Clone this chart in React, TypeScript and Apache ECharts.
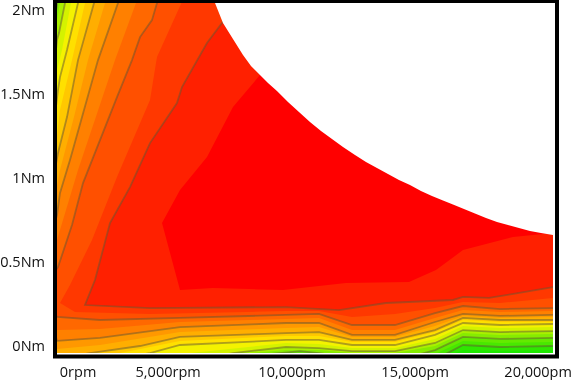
import React, { useEffect, useRef } from "react";
import * as echarts from "echarts";

type Pt = [number, number];

const yTickValues = [0, 0.5, 1, 1.5, 2];
const yTickLabels = ["0Nm", "0.5Nm", "1Nm", "1.5Nm", "2Nm"];
const xTickValues = [850, 4480, 9480, 14440, 19400];
const xTickLabels = ["0rpm", "5,000rpm", "10,000pm", "15,000pm", "20,000pm"];

const bandColors = ["#2ee800", "#48e800", "#64ea00", "#86ec00", "#aaf000", "#d4f200", "#f4f200", "#ffe000", "#ffc800", "#ffae00", "#ff9800", "#ff8000", "#ff6800", "#ff5000", "#ff3800", "#ff2000", "#ff0000"];
const bandHasLine = [false, true, false, true, false, true, false, true, false, true, false, true, false, true, false, true, false];

const c00: Pt[] = [[-700, 2.083], [-700, -0.071], [15645, -0.071], [16371, -0.03], [17863, -0.036], [20000, -0.03]];
const c01: Pt[] = [[-700, 2.083], [-700, -0.071], [15444, -0.071], [16371, 0], [17863, -0.012], [20000, -0.006]];
const c02: Pt[] = [[-700, 2.083], [-700, -0.071], [13226, -0.071], [15242, -0.054], [16371, 0.024], [17863, 0.012], [20000, 0.018]];
const c03: Pt[] = [[40, 2.083], [0, 2.024], [-685, 1.458], [-700, -0.071], [7984, -0.071], [8588, -0.054], [9798, -0.036], [10564, -0.048], [11613, -0.071], [14233, -0.071], [15242, -0.03], [16371, 0.048], [17863, 0.036], [20000, 0.042]];
const c04: Pt[] = [[121, 2.083], [121, 2.036], [0, 1.934], [-685, 1.161], [-700, -0.071], [7177, -0.071], [7782, -0.048], [9233, -0.03], [10564, -0.03], [11895, -0.048], [13629, -0.048], [15242, -0.006], [16371, 0.071], [17863, 0.06], [20000, 0.065]];
const c05: Pt[] = [[363, 2.083], [323, 2.036], [81, 1.857], [0, 1.815], [-685, 0.863], [-700, -0.071], [6371, -0.071], [7096, -0.048], [9233, -0.012], [10564, -0.018], [11895, -0.036], [13629, -0.036], [15242, 0.012], [16371, 0.089], [17863, 0.077], [20000, 0.083]];
const c06: Pt[] = [[605, 2.083], [564, 2.036], [202, 1.756], [0, 1.637], [-685, 0.744], [-700, -0.071], [4556, -0.071], [5363, -0.048], [9233, 0.012], [10564, 0.006], [11895, -0.018], [13629, -0.018], [15242, 0.036], [16371, 0.113], [17863, 0.101], [20000, 0.107]];
const c07: Pt[] = [[887, 2.083], [847, 2.036], [403, 1.756], [121, 1.595], [40, 1.518], [-685, 0.625], [-700, -0.071], [2943, -0.071], [3750, -0.048], [4960, 0], [9233, 0.03], [10564, 0.03], [11895, 0], [13629, 0], [15242, 0.06], [16371, 0.131], [17863, 0.119], [20000, 0.125]];
const c08: Pt[] = [[1169, 2.083], [1129, 2.036], [605, 1.696], [121, 1.399], [0, 1.25], [-685, 0.565], [-700, -0.071], [1734, -0.071], [2540, -0.048], [4960, 0.024], [9233, 0.054], [10564, 0.054], [11895, 0.018], [13629, 0.018], [15242, 0.077], [16371, 0.149], [17863, 0.137], [20000, 0.137]];
const c09: Pt[] = [[1532, 2.083], [1492, 2.036], [847, 1.696], [403, 1.357], [40, 1.143], [-685, 0.565], [-700, -0.071], [524, -0.071], [1331, -0.048], [3347, -0.006], [4960, 0.048], [9233, 0.071], [10564, 0.077], [11895, 0.03], [13629, 0.03], [15242, 0.089], [16371, 0.161], [17863, 0.149], [20000, 0.149]];
const c10: Pt[] = [[1976, 2.083], [1935, 2.036], [1250, 1.696], [685, 1.357], [121, 1.042], [0, 0.952], [-685, 0.446], [0, -0.024], [1734, 0], [4960, 0.077], [9233, 0.101], [10564, 0.107], [11895, 0.048], [13629, 0.048], [15242, 0.113], [16371, 0.173], [17863, 0.161], [20000, 0.167]];
const c11: Pt[] = [[2500, 2.083], [2460, 2.036], [1653, 1.696], [524, 1.101], [121, 0.905], [0, 0.774], [-685, 0.387], [0, 0.024], [1734, 0.042], [4960, 0.107], [9233, 0.131], [10564, 0.131], [11895, 0.06], [13629, 0.06], [15242, 0.137], [16371, 0.185], [17863, 0.173], [20000, 0.179]];
const c12: Pt[] = [[3226, 2.083], [3185, 2.036], [2339, 1.696], [847, 1.042], [0, 0.625], [-685, 0.357], [0, 0.089], [1734, 0.095], [4960, 0.137], [9233, 0.155], [10564, 0.161], [11895, 0.089], [13629, 0.089], [15242, 0.161], [16371, 0.208], [17863, 0.196], [20000, 0.202]];
const c13: Pt[] = [[4072, 2.083], [4032, 2.036], [3830, 1.934], [3347, 1.833], [3024, 1.696], [2419, 1.476], [1048, 0.964], [605, 0.714], [40, 0.464], [-685, 0.315], [0, 0.167], [1734, 0.149], [4960, 0.161], [9233, 0.179], [10564, 0.185], [11895, 0.119], [13629, 0.119], [15242, 0.19], [16371, 0.232], [17863, 0.214], [20000, 0.22]];
const c14: Pt[] = [[5161, 2.083], [4032, 1.714], [3750, 1.458], [2419, 1.0], [1411, 0.625], [524, 0.357], [121, 0.25], [726, 0.196], [3750, 0.185], [9233, 0.202], [10564, 0.202], [11895, 0.167], [13629, 0.185], [15242, 0.22], [16371, 0.256], [17863, 0.25], [20000, 0.28]];
const c15: Pt[] = [[7378, 2.083], [6653, 1.917], [6048, 1.798], [5040, 1.536], [4838, 1.44], [3750, 1.202], [2943, 0.94], [2137, 0.726], [1532, 0.387], [1129, 0.238], [3750, 0.22], [9233, 0.226], [11370, 0.208], [13265, 0.25], [15967, 0.268], [16371, 0.286], [17419, 0.28], [20000, 0.345]];
const c16: Pt[] = [[9395, 1.875], [8185, 1.607], [7096, 1.417], [6048, 1.119], [4960, 0.923], [4234, 0.726], [4960, 0.327], [6290, 0.339], [9112, 0.327], [11652, 0.369], [14193, 0.375], [15282, 0.446], [16371, 0.565], [18387, 0.643], [20000, 0.667]];

const contours = [c00, c01, c02, c03, c04, c05, c06, c07, c08, c09, c10, c11, c12, c13, c14, c15, c16];

const limitCurve: Pt[] = [[6371, 2.036], [6693, 1.917], [7096, 1.821], [7500, 1.726], [7822, 1.661], [8185, 1.607], [8508, 1.56], [8870, 1.512], [9314, 1.446], [9757, 1.387], [10201, 1.327], [10645, 1.274], [11088, 1.226], [11532, 1.179], [12016, 1.131], [12459, 1.089], [12902, 1.054], [13346, 1.018], [13789, 0.982], [14233, 0.952], [14676, 0.917], [15120, 0.887], [15564, 0.86], [15967, 0.836], [16410, 0.81], [16854, 0.783], [17298, 0.756], [17741, 0.732], [18185, 0.714], [18628, 0.696], [19071, 0.679], [19515, 0.667], [20000, 0.655]];

const labelFont = "'Open Sans', 'Noto Sans', sans-serif";

export default function App() {
  const ref = useRef<HTMLDivElement>(null);
  useEffect(() => {
    document.body.style.margin = "0";
    const chart = echarts.init(ref.current!, null, { renderer: "svg" });
    const renderItem = (params: any, api: any) => {
      const i = params.dataIndex;
      const toPx = (p: Pt) => api.coord(p);
      if (i === contours.length) {
        const outline: Pt[] = [[6200, 2.2], ...limitCurve, [21000, 0.655], [21000, 2.2]];
        return {
          type: "polygon",
          shape: { points: outline.map(toPx) },
          style: { fill: "#ffffff", stroke: "none" },
        };
      }
      const path = contours[i];
      const closed: Pt[] = [...path, [21000, path[path.length - 1][1]], [21000, 2.2], [path[0][0], 2.2]];
      const children: any[] = [
        { type: "polygon", shape: { points: closed.map(toPx) }, style: { fill: bandColors[i], stroke: "none" } },
      ];
      if (bandHasLine[i]) {
        children.push({
          type: "polyline",
          shape: { points: path.map(toPx) },
          style: { fill: "none", stroke: "rgba(100,85,50,0.5)", lineWidth: 1.8 },
        });
      }
      return { type: "group", children };
    };
    chart.setOption({
      animation: false,
      backgroundColor: "#ffffff",
      grid: { left: 57, top: 3, width: 496, height: 350, show: true, backgroundColor: "#1ee800", borderWidth: 0, outerBoundsMode: "none" },
      xAxis: {
        type: "value",
        min: 0,
        max: 20000,
        splitLine: { show: false },
        axisLine: { show: false },
        axisTick: { show: false },
        axisLabel: {
          customValues: xTickValues,
          margin: 11,
          color: "#111111",
          fontSize: 14.5,
          fontFamily: labelFont,
          hideOverlap: false,
          formatter: (v: number) => xTickLabels[xTickValues.indexOf(v)] ?? "",
        },
      },
      yAxis: {
        type: "value",
        min: -0.0476,
        max: 2.036,
        splitLine: { show: false },
        axisLine: { show: false },
        axisTick: { show: false },
        axisLabel: {
          customValues: yTickValues,
          margin: 12,
          color: "#111111",
          fontSize: 14.5,
          fontFamily: labelFont,
          hideOverlap: false,
          formatter: (v: number) => yTickLabels[yTickValues.indexOf(v)] ?? "",
        },
      },
      series: [
        {
          type: "custom",
          coordinateSystem: "cartesian2d",
          clip: true,
          silent: true,
          renderItem,
          encode: { x: 0, y: 1 },
          data: [...contours, limitCurve].map((_, i) => [0, 0, i]),
        },
      ],
      graphic: [
        {
          type: "rect",
          z: 100,
          shape: { x: 55, y: 1, width: 502, height: 355.5 },
          style: { fill: "none", stroke: "#000000", lineWidth: 4 },
        },
      ],
    });
    return () => chart.dispose();
  }, []);
  return <div ref={ref} style={{ position: "absolute", left: 0, top: 0, width: 572, height: 380, filter: "blur(0.5px)" }} />;
}
